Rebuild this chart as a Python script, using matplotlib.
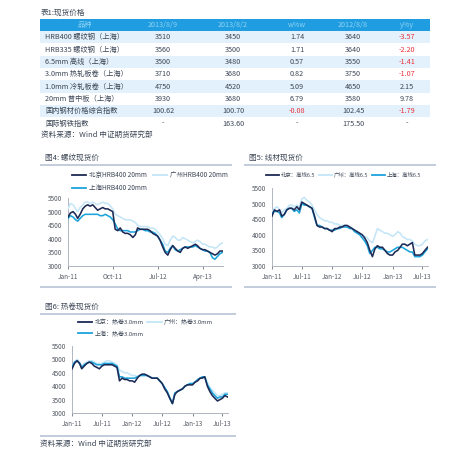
import matplotlib
matplotlib.use("Agg")
import matplotlib.pyplot as plt
import matplotlib.dates as mdates
from matplotlib.patches import Rectangle
import pandas as pd

plt.rcParams['font.family'] = ['Noto Sans CJK SC', 'DejaVu Sans']

# ---------------- table data ----------------
table_title = "表1:现货价格"
table_header = ["品种", "2013/8/9", "2013/8/2", "w%w", "2012/8/8", "y%y"]
products = ["HRB400 螺纹钢（上海）", "HRB335 螺纹钢（上海）", "6.5mm 高线（上海）",
            "3.0mm 热轧板卷（上海）", "1.0mm 冷轧板卷（上海）", "20mm 普中板（上海）",
            "国内钢材价格综合指数", "国际钢铁指数"]
price_0809 = ["3510", "3560", "3500", "3710", "4750", "3930", "100.62", "-"]
price_0802 = ["3450", "3500", "3480", "3680", "4520", "3680", "100.70", "163.60"]
wow = ["1.74", "1.71", "0.57", "0.82", "5.09", "6.79", "-0.08", "-"]
price_120808 = ["3640", "3640", "3550", "3750", "4650", "3580", "102.45", "175.50"]
yoy = ["-3.57", "-2.20", "-1.41", "-1.07", "2.15", "9.78", "-1.79", "-"]
source_text = "资料来源：Wind 中证期货研究部"

# ---------------- series data (half-monthly, Jan-2011 .. Aug-2013) ----------------
dates = pd.to_datetime([f"{2011 + (i // 2) // 12}-{(i // 2) % 12 + 1:02d}-{1 if i % 2 == 0 else 16:02d}"
                        for i in range(63)])

fig4_title = "图4: 螺纹现货价"
fig4_labels = ["北京HRB400 20mm", "广州HRB400 20mm", "上海HRB400 20mm"]
bj1 = [4800, 4950, 5000, 4900, 4750, 4900, 5100, 5200, 5250, 5200,
       5250, 5150, 5050, 5100, 5150, 5100, 5100, 5050, 5000, 4350,
       4300, 4400, 4250, 4200, 4200, 4150, 4050, 4150, 4400, 4350,
       4350, 4350, 4350, 4300, 4200, 4150, 4100, 3950, 3700, 3500,
       3400, 3600, 3750, 3650, 3550, 3500, 3650, 3700, 3650, 3700,
       3750, 3800, 3750, 3650, 3600, 3600, 3550, 3500, 3450, 3400,
       3450, 3550, 3550]
gz1 = [5100, 5300, 5250, 5100, 5000, 5150, 5250, 5350, 5350, 5300,
       5350, 5300, 5250, 5300, 5350, 5300, 5300, 5200, 5100, 4900,
       4850, 4800, 4750, 4700, 4700, 4700, 4650, 4600, 4500, 4450,
       4450, 4450, 4450, 4400, 4400, 4350, 4250, 4150, 4000, 3800,
       3750, 3950, 4100, 4050, 3950, 3950, 4050, 4000, 3950, 3900,
       3850, 3900, 3950, 3900, 3800, 3800, 3750, 3700, 3700, 3650,
       3700, 3800, 3850]
sh1 = [4750, 4850, 4800, 4700, 4650, 4750, 4850, 4900, 4900, 4900,
       4900, 4900, 4900, 4850, 4850, 4900, 4850, 4800, 4700, 4550,
       4350, 4300, 4300, 4300, 4300, 4250, 4250, 4250, 4300, 4350,
       4350, 4300, 4300, 4250, 4250, 4200, 4100, 3950, 3800, 3550,
       3500, 3650, 3750, 3600, 3550, 3600, 3650, 3700, 3700, 3700,
       3700, 3750, 3700, 3650, 3600, 3550, 3550, 3500, 3300, 3250,
       3350, 3450, 3500]

fig5_title = "图5: 线材现货价"
fig5_labels = ["北京：高线6.5", "广州：高线6.5", "上海：高线6.5"]
bj2 = [4600, 4800, 4750, 4800, 4600, 4650, 4800, 4850, 4850, 4800,
       4900, 4800, 5050, 5000, 4950, 4900, 4850, 4600, 4300, 4250,
       4250, 4200, 4200, 4150, 4100, 4200, 4200, 4250, 4250, 4300,
       4300, 4250, 4200, 4150, 4100, 4050, 4000, 3900, 3750, 3500,
       3300, 3550, 3650, 3600, 3600, 3500, 3400, 3350, 3350, 3450,
       3500, 3600, 3700, 3700, 3650, 3700, 3750, 3350, 3350, 3350,
       3400, 3500, 3600]
gz2 = [4750, 4850, 4900, 4800, 4700, 4800, 4850, 4950, 4950, 4900,
       4950, 4900, 5150, 5200, 5100, 5050, 4950, 4800, 4650, 4550,
       4500, 4450, 4450, 4400, 4400, 4350, 4350, 4300, 4300, 4300,
       4250, 4250, 4200, 4150, 4100, 4050, 4000, 3950, 3900, 3800,
       3750, 3950, 4200, 4150, 4100, 4050, 4050, 4000, 3950, 4000,
       4100, 4050, 3950, 3900, 3850, 3850, 3800, 3700, 3650, 3650,
       3700, 3800, 3850]
sh2 = [4700, 4750, 4750, 4700, 4550, 4650, 4800, 4850, 4850, 4750,
       4800, 4700, 5000, 4950, 4950, 4900, 4850, 4550, 4300, 4300,
       4250, 4200, 4200, 4150, 4150, 4150, 4200, 4200, 4250, 4250,
       4250, 4200, 4200, 4100, 4050, 4000, 3900, 3800, 3650, 3400,
       3500, 3600, 3600, 3550, 3550, 3500, 3450, 3450, 3500, 3550,
       3600, 3600, 3600, 3550, 3500, 3450, 3450, 3300, 3300, 3300,
       3350, 3450, 3550]

fig6_title = "图6: 热卷现货价"
fig6_labels = ["北京：热卷3.0mm", "广州：热卷3.0mm", "上海：热卷3.0mm"]
bj3 = [4650, 4850, 4950, 4850, 4650, 4750, 4850, 4900, 4850, 4750,
       4700, 4650, 4750, 4800, 4800, 4800, 4800, 4750, 4700, 4200,
       4300, 4250, 4250, 4200, 4200, 4150, 4300, 4400, 4450, 4450,
       4400, 4350, 4300, 4300, 4300, 4200, 4100, 3900, 3750, 3550,
       3350, 3700, 3800, 3850, 3900, 4000, 4050, 4050, 4050, 4150,
       4200, 4300, 4300, 4350, 4000, 3800, 3650, 3550, 3450, 3500,
       3550, 3650, 3600]
gz3 = [4700, 4900, 5000, 4900, 4750, 4850, 4900, 4950, 4950, 4900,
       4850, 4850, 4850, 4900, 4950, 4950, 4900, 4850, 4800, 4600,
       4550, 4500, 4500, 4450, 4400, 4400, 4350, 4400, 4400, 4400,
       4400, 4350, 4300, 4300, 4300, 4200, 4100, 3950, 3800, 3600,
       3400, 3700, 3800, 3850, 3900, 4000, 4050, 4100, 4100, 4150,
       4250, 4300, 4300, 4350, 4150, 3950, 3850, 3750, 3650, 3650,
       3700, 3750, 3750]
sh3 = [4700, 4900, 4950, 4850, 4700, 4800, 4850, 4900, 4900, 4850,
       4800, 4800, 4800, 4850, 4850, 4850, 4850, 4800, 4750, 4350,
       4350, 4300, 4300, 4300, 4300, 4300, 4350, 4400, 4400, 4400,
       4400, 4350, 4300, 4300, 4300, 4200, 4100, 3950, 3800, 3550,
       3350, 3750, 3800, 3850, 3900, 4000, 4050, 4100, 4100, 4150,
       4250, 4300, 4350, 4350, 4050, 3900, 3750, 3650, 3550, 3600,
       3600, 3700, 3700]

yticks = [3000, 3500, 4000, 4500, 5000, 5500]
fig4_xticks = ["2011-01-01", "2011-10-01", "2012-07-01", "2013-04-01"]
fig56_xticks = ["2011-01-01", "2011-07-01", "2012-01-01", "2012-07-01", "2013-01-01", "2013-07-01"]

# ---------------- styling ----------------
W, H = 474, 454
C_BJ = "#1d2a55"
C_GZ = "#c4e6f7"
C_SH = "#1ca4dd"
TXT = "#3c4656"
GRID_LINE = "#b9c3d6"
HEAD_BG = "#1f9de0"
HEAD_TXT = "#8fd2f4"
ROW_BG = "#e2f1fb"
RED = "#e8313a"

fig = plt.figure(figsize=(W / 100, H / 100), dpi=100)
fig.patch.set_facecolor("white")

bg = fig.add_axes([0, 0, 1, 1])
bg.set_xlim(0, W)
bg.set_ylim(H, 0)
bg.axis("off")

# ---- table ----
tx0, tx1 = 40.5, 430
head_top, head_bot = 18.5, 31
row_h = 12.35
col_centers = [85, 163, 233, 297, 353, 407]
fs_t = 5.2

bg.text(41, 12.5, table_title, fontsize=5.5, color=TXT, va="center", ha="left")
bg.add_patch(Rectangle((tx0, head_top), tx1 - tx0, head_bot - head_top, facecolor=HEAD_BG, edgecolor="none"))
for cx, h in zip(col_centers, table_header):
    bg.text(cx, (head_top + head_bot) / 2, h, fontsize=fs_t, color=HEAD_TXT, ha="center", va="center")

for r, name in enumerate(products):
    y0 = head_bot + r * row_h
    yc = y0 + row_h / 2
    if r % 2 == 0:
        bg.add_patch(Rectangle((tx0, y0), tx1 - tx0, row_h, facecolor=ROW_BG, edgecolor="none"))
    bg.text(45, yc, name, fontsize=fs_t, color=TXT, ha="left", va="center")
    vals = [price_0809[r], price_0802[r], wow[r], price_120808[r], yoy[r]]
    for k, v in enumerate(vals):
        col = RED if v.startswith("-") and len(v) > 1 else TXT
        bg.text(col_centers[k + 1], yc, v, fontsize=fs_t, color=col, ha="center", va="center")

bg.text(41, 135, source_text, fontsize=5.5, color=TXT, ha="left", va="center")


def frame(title, x0, x1, ytitle, yline, ybot):
    bg.text(x0 + 5, ytitle, title, fontsize=5.5, color=TXT, ha="left", va="center")
    bg.plot([x0, x1], [yline, yline], color=GRID_LINE, lw=1.2, solid_capstyle="butt")
    if ybot is not None:
        bg.plot([x0, x1], [ybot, ybot], color=GRID_LINE, lw=1.2, solid_capstyle="butt")


frame(fig4_title, 40, 232, 158, 165, 287)
frame(fig5_title, 244, 436, 158, 164.5, 287)
frame(fig6_title, 40, 236, 307, 313.5, 436)
bg.text(40, 444, source_text, fontsize=5.5, color=TXT, ha="left", va="center")


def make_ax(px0, px1, py0, py1, series, xticks):
    ax = fig.add_axes([px0 / W, 1 - py1 / H, (px1 - px0) / W, (py1 - py0) / H])
    cols = [C_BJ, C_GZ, C_SH]
    zs = {0: 5, 1: 3, 2: 4}
    handles = {}
    for idx in [1, 2, 0]:
        ln, = ax.plot(dates, series[idx], color=cols[idx], lw=1.15, zorder=zs[idx])
        handles[idx] = ln
    ax.set_ylim(3000, 5500)
    ax.set_yticks(yticks)
    ax.set_xlim(dates[0], pd.Timestamp("2013-08-04"))
    ax.set_xticks(pd.to_datetime(xticks))
    ax.xaxis.set_major_formatter(mdates.DateFormatter("%b-%y"))
    for s in ["top", "right"]:
        ax.spines[s].set_visible(False)
    for s in ["left", "bottom"]:
        ax.spines[s].set_color("#b0b6c0")
        ax.spines[s].set_linewidth(0.7)
    ax.tick_params(axis="both", labelsize=4.6, colors="#555a63", length=2, width=0.5, pad=3)
    ax.tick_params(axis="y", length=0, pad=4)
    ax.set_facecolor("none")
    return ax, handles


ax1, h1 = make_ax(68, 223, 198, 266, [bj1, gz1, sh1], fig4_xticks)
ax2, h2 = make_ax(272, 428, 188, 266, [bj2, gz2, sh2], fig56_xticks)
ax3, h3 = make_ax(72, 228, 346, 413, [bj3, gz3, sh3], fig56_xticks)


def px_leg(handles, labels, ncol, x, y, fs, hl, cs, ls):
    if ncol == 2:
        order = [0, 2, 1]   # column-major fill -> row1: BJ, GZ ; row2: SH
    else:
        order = [0, 1, 2]
    leg = fig.legend([handles[i] for i in order], [labels[i] for i in order], ncol=ncol,
                     loc="upper left", bbox_to_anchor=(x / W, 1 - y / H),
                     frameon=False, fontsize=fs, handlelength=hl, handletextpad=0.4,
                     columnspacing=cs, labelspacing=ls, borderpad=0, borderaxespad=0)
    for t in leg.get_texts():
        t.set_color(TXT)
    for l in leg.get_lines():
        l.set_linewidth(1.3)
    return leg


px_leg(h1, fig4_labels, 2, 72, 171.5, 4.7, 2.2, 0.9, 0.75)
px_leg(h2, fig5_labels, 3, 266, 172, 3.9, 2.4, 0.6, 0.7)
px_leg(h3, fig6_labels, 2, 78, 319.5, 4.3, 2.4, 0.6, 0.85)

fig.savefig("out.png", dpi=100, facecolor="white")
